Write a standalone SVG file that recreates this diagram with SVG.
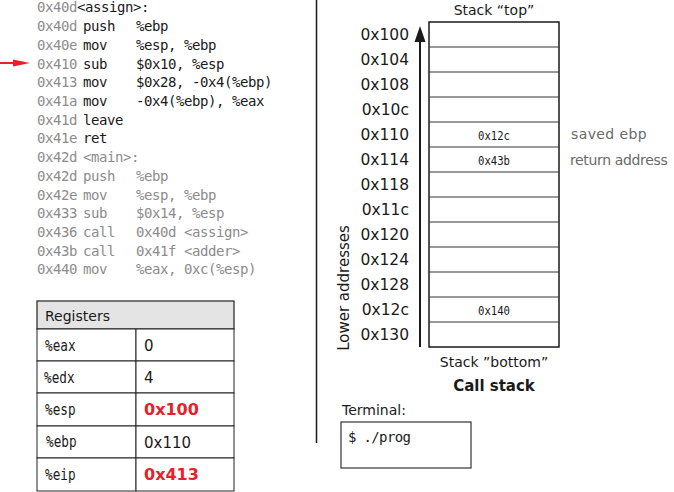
<svg xmlns="http://www.w3.org/2000/svg" width="674" height="492" viewBox="0 0 674 492">
<style>
.code{font-family:"DejaVu Sans Mono","Liberation Mono",monospace;font-size:14px;letter-spacing:-0.43px;fill:#1a1a1a}
.g{fill:#8c8c8c}
.sans{font-family:"DejaVu Sans","Liberation Sans",sans-serif;fill:#1a1a1a}
.addr{font-family:"DejaVu Sans","Liberation Sans",sans-serif;font-size:15.5px;fill:#1a1a1a;text-anchor:end}
.reg{font-family:"DejaVu Sans Mono","Liberation Mono",monospace;font-size:15.5px;fill:#1a1a1a}
.val{font-family:"DejaVu Sans","Liberation Sans",sans-serif;font-size:15px;fill:#1a1a1a}
.red{font-family:"DejaVu Sans","Liberation Sans",sans-serif;font-size:16px;font-weight:bold;fill:#e8202a}
.cell{fill:#fff;stroke:#222;stroke-width:1}
.sv{font-family:"DejaVu Sans Mono","Liberation Mono",monospace;font-size:13px;fill:#1a1a1a;text-anchor:middle}
.side{font-family:"DejaVu Sans","Liberation Sans",sans-serif;font-size:14px;fill:#6a6a6a}
</style>
<rect width="674" height="492" fill="#fff"/>

<g id="code">
<text class="code" y="12"><tspan class="g" x="37">0x40d</tspan><tspan x="77">&lt;assign&gt;:</tspan></text>
<text class="code" y="31"><tspan class="g" x="37">0x40d</tspan><tspan x="83">push</tspan><tspan x="136">%ebp</tspan></text>
<text class="code" y="50"><tspan class="g" x="37">0x40e</tspan><tspan x="83">mov</tspan><tspan x="136">%esp, %ebp</tspan></text>
<text class="code" y="68.5"><tspan class="g" x="37">0x410</tspan><tspan x="83">sub</tspan><tspan x="136">$0x10, %esp</tspan></text>
<text class="code" y="87"><tspan class="g" x="37">0x413</tspan><tspan x="83">mov</tspan><tspan x="136">$0x28, -0x4(%ebp)</tspan></text>
<text class="code" y="106"><tspan class="g" x="37">0x41a</tspan><tspan x="83">mov</tspan><tspan x="136">-0x4(%ebp), %eax</tspan></text>
<text class="code" y="124.5"><tspan class="g" x="37">0x41d</tspan><tspan x="83">leave</tspan></text>
<text class="code" y="143"><tspan class="g" x="37">0x41e</tspan><tspan x="83">ret</tspan></text>
<text class="code g" y="162"><tspan x="37">0x42d</tspan><tspan x="83">&lt;main&gt;:</tspan></text>
<text class="code g" y="181"><tspan x="37">0x42d</tspan><tspan x="83">push</tspan><tspan x="136">%ebp</tspan></text>
<text class="code g" y="199.5"><tspan x="37">0x42e</tspan><tspan x="83">mov</tspan><tspan x="136">%esp, %ebp</tspan></text>
<text class="code g" y="218"><tspan x="37">0x433</tspan><tspan x="83">sub</tspan><tspan x="136">$0x14, %esp</tspan></text>
<text class="code g" y="237"><tspan x="37">0x436</tspan><tspan x="83">call</tspan><tspan x="136">0x40d &lt;assign&gt;</tspan></text>
<text class="code g" y="255.5"><tspan x="37">0x43b</tspan><tspan x="83">call</tspan><tspan x="136">0x41f &lt;adder&gt;</tspan></text>
<text class="code g" y="274"><tspan x="37">0x440</tspan><tspan x="83">mov</tspan><tspan x="136">%eax, 0xc(%esp)</tspan></text>
</g>

<g id="connectors">
<line x1="0" y1="63" x2="15" y2="63" stroke="#e8202a" stroke-width="2"/>
<polygon points="13,59.5 30,63 13,66.5" fill="#e8202a"/>
<line x1="420" y1="347" x2="420" y2="40" stroke="#1a1a1a" stroke-width="2"/>
<polygon points="414.5,42 420,26 425.5,42" fill="#1a1a1a"/>
</g>

<line id="divider" x1="316.5" y1="0" x2="316.5" y2="443" stroke="#1a1a1a" stroke-width="1.5"/>

<g id="registers">
<rect x="37" y="301" width="197" height="28" fill="#e4e4e4" stroke="#222" stroke-width="1.2"/>
<text class="sans" x="45" y="321" font-size="14">Registers</text>
<rect class="cell" x="37" y="329" width="99" height="32"/><rect class="cell" x="136" y="329" width="98" height="32"/>
<rect class="cell" x="37" y="361" width="99" height="32"/><rect class="cell" x="136" y="361" width="98" height="32"/>
<rect class="cell" x="37" y="393" width="99" height="33"/><rect class="cell" x="136" y="393" width="98" height="33"/>
<rect class="cell" x="37" y="426" width="99" height="32"/><rect class="cell" x="136" y="426" width="98" height="32"/>
<rect class="cell" x="37" y="458" width="99" height="33"/><rect class="cell" x="136" y="458" width="98" height="33"/>
<text class="reg" transform="translate(45,350.5) scale(0.82,1)">%eax</text><text class="val" x="144" y="350.5">0</text>
<text class="reg" transform="translate(44,382.5) scale(0.82,1)">%edx</text><text class="val" x="144" y="382.5">4</text>
<text class="reg" transform="translate(45,414.5) scale(0.82,1)">%esp</text><text class="red" x="144" y="415">0x100</text>
<text class="reg" transform="translate(46,447) scale(0.82,1)">%ebp</text><text class="val" x="144" y="447.5">0x110</text>
<text class="reg" transform="translate(45,479.5) scale(0.82,1)">%eip</text><text class="red" x="144" y="480">0x413</text>
</g>

<g id="stack">
<text class="sans" x="494" y="15" font-size="14" text-anchor="middle">Stack “top”</text>
<rect x="429" y="22" width="130" height="325" fill="#fff" stroke="#1a1a1a" stroke-width="1.5"/>
<g stroke="#333" stroke-width="1">
<line x1="429" y1="47" x2="559" y2="47"/><line x1="429" y1="72" x2="559" y2="72"/>
<line x1="429" y1="97" x2="559" y2="97"/><line x1="429" y1="122" x2="559" y2="122"/>
<line x1="429" y1="147" x2="559" y2="147"/><line x1="429" y1="172" x2="559" y2="172"/>
<line x1="429" y1="197" x2="559" y2="197"/><line x1="429" y1="222" x2="559" y2="222"/>
<line x1="429" y1="247" x2="559" y2="247"/><line x1="429" y1="272" x2="559" y2="272"/>
<line x1="429" y1="297" x2="559" y2="297"/><line x1="429" y1="322" x2="559" y2="322"/>
</g>
<text class="addr" x="409" y="40">0x100</text>
<text class="addr" x="409" y="65">0x104</text>
<text class="addr" x="409" y="90">0x108</text>
<text class="addr" x="409" y="115">0x10c</text>
<text class="addr" x="409" y="140">0x110</text>
<text class="addr" x="409" y="165">0x114</text>
<text class="addr" x="409" y="190">0x118</text>
<text class="addr" x="409" y="215">0x11c</text>
<text class="addr" x="409" y="240">0x120</text>
<text class="addr" x="409" y="265">0x124</text>
<text class="addr" x="409" y="290">0x128</text>
<text class="addr" x="409" y="315">0x12c</text>
<text class="addr" x="409" y="340">0x130</text>
<text class="sv" transform="translate(494,139.5) scale(0.82,1)">0x12c</text>
<text class="sv" transform="translate(494,164.5) scale(0.82,1)">0x43b</text>
<text class="sv" transform="translate(494,314.5) scale(0.82,1)">0x140</text>
<text class="side" x="571" y="139" letter-spacing="0.4">saved ebp</text>
<text class="side" x="570" y="165" letter-spacing="-0.35">return address</text>
<text class="sans" font-size="15" text-anchor="middle" transform="translate(349,288) rotate(-90)">Lower addresses</text>
<text class="sans" x="494" y="367" font-size="14" text-anchor="middle">Stack ”bottom”</text>
<text class="sans" x="494" y="391" font-size="15" font-weight="bold" text-anchor="middle">Call stack</text>
</g>

<g id="terminal">
<text class="sans" x="342" y="415" font-size="14">Terminal:</text>
<rect x="341" y="422" width="130" height="46" fill="#fff" stroke="#333" stroke-width="1.2"/>
<text class="code" x="348" y="442" style="letter-spacing:-0.65px">$ ./prog</text>
</g>
</svg>
